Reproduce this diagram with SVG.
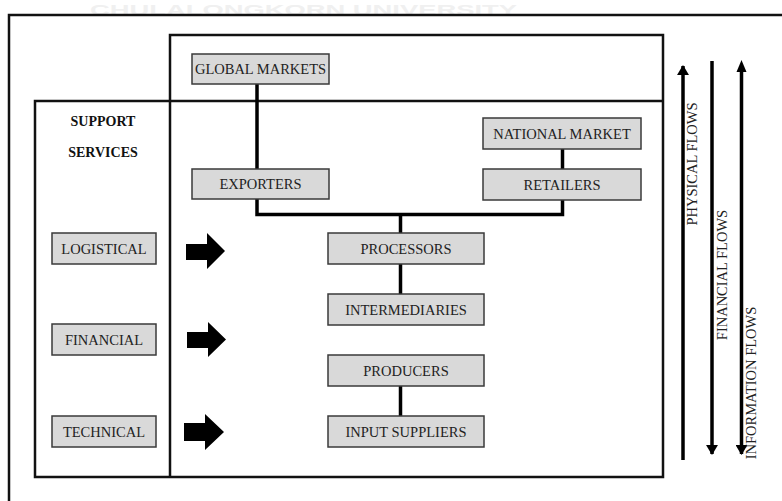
<svg xmlns="http://www.w3.org/2000/svg" width="782" height="501" viewBox="0 0 782 501">
<style>
.frame{fill:none;stroke:#111;stroke-width:2.5}
.box rect{fill:#d9d9d9;stroke:#3a3a3a;stroke-width:1.5}
.box text{font-family:"Liberation Serif","Times New Roman",serif;font-size:14.5px;fill:#222;text-anchor:middle}
.conn{fill:none;stroke:#000;stroke-width:3.5}
.flow{stroke:#000;stroke-width:3.5}
.lbl{font-family:"Liberation Serif","Times New Roman",serif;font-size:14.5px;fill:#222;text-anchor:middle}
.hdr{font-family:"Liberation Serif","Times New Roman",serif;font-size:14px;font-weight:bold;fill:#111;text-anchor:middle}
.blk{fill:#000}
</style>
<defs>
<marker id="ah" viewBox="0 0 10 12" refX="9" refY="6" markerWidth="3" markerHeight="3.4" orient="auto" markerUnits="strokeWidth">
<path d="M0,0 L10,6 L0,12 Z" fill="#000"/>
</marker>
</defs>
<rect width="782" height="501" fill="#fff"/>
<text x="90" y="14.5" textLength="427" lengthAdjust="spacingAndGlyphs" font-family="Liberation Sans, Arial, sans-serif" font-weight="bold" font-size="15" fill="#f0f0f0">CHULALONGKORN UNIVERSITY</text>

<g id="frames">
<path class="frame" d="M9,510 V15 H790"/>
<path class="frame" d="M170,101 V35 H663 V477 H35 V101 H663"/>
<line class="frame" x1="170" y1="101" x2="170" y2="477"/>
</g>

<g id="connectors">
<line class="conn" x1="257" y1="84" x2="257" y2="169"/>
<polyline class="conn" points="257,199 257,214.5 562.5,214.5 562.5,200"/>
<line class="conn" x1="562.5" y1="149" x2="562.5" y2="169"/>
<line class="conn" x1="400.5" y1="214.5" x2="400.5" y2="233"/>
<line class="conn" x1="400.5" y1="264" x2="400.5" y2="294"/>
<line class="conn" x1="400.5" y1="386" x2="400.5" y2="416"/>
</g>

<g id="support-header">
<text class="hdr" x="103" y="126">SUPPORT</text>
<text class="hdr" x="103" y="157">SERVICES</text>
</g>

<g id="global-markets" class="box"><rect x="192" y="54" width="137" height="30"/><text x="260.5" y="74">GLOBAL MARKETS</text></g>
<g id="exporters" class="box"><rect x="192" y="169" width="137" height="30"/><text x="260.5" y="189">EXPORTERS</text></g>
<g id="national-market" class="box"><rect x="483" y="118" width="158" height="31"/><text x="562" y="138.5">NATIONAL MARKET</text></g>
<g id="retailers" class="box"><rect x="483" y="169" width="158" height="31"/><text x="562" y="189.5">RETAILERS</text></g>
<g id="processors" class="box"><rect x="328" y="233" width="156" height="31"/><text x="406" y="253.5">PROCESSORS</text></g>
<g id="intermediaries" class="box"><rect x="328" y="294" width="156" height="31"/><text x="406" y="314.5">INTERMEDIARIES</text></g>
<g id="producers" class="box"><rect x="328" y="355" width="156" height="31"/><text x="406" y="375.5">PRODUCERS</text></g>
<g id="input-suppliers" class="box"><rect x="328" y="416" width="156" height="31"/><text x="406" y="436.5">INPUT SUPPLIERS</text></g>
<g id="logistical" class="box"><rect x="52" y="233" width="104" height="31"/><text x="104" y="253.5">LOGISTICAL</text></g>
<g id="financial" class="box"><rect x="52" y="324" width="104" height="31"/><text x="104" y="344.5">FINANCIAL</text></g>
<g id="technical" class="box"><rect x="52" y="416" width="104" height="31"/><text x="104" y="436.5">TECHNICAL</text></g>

<g id="service-arrows">
<polygon class="blk" points="186,244 207,244 207,233 225,251 207,269 207,260 186,260"/>
<polygon class="blk" points="187,332 208,332 208,322 226,339.5 208,357 208,348 187,348"/>
<polygon class="blk" points="184,423 205,423 205,414 224,432 205,450 205,441 184,441"/>
</g>

<g id="flows">
<line class="flow" x1="683" y1="460" x2="683" y2="66" marker-end="url(#ah)"/>
<line class="flow" x1="712" y1="61" x2="712" y2="454" marker-end="url(#ah)"/>
<line class="flow" x1="741.5" y1="66" x2="741.5" y2="454" marker-end="url(#ah)"/>
<polygon class="blk" points="741.5,60 736.5,72 746.5,72"/>
<text class="lbl" transform="translate(697,164) rotate(-90)">PHYSICAL FLOWS</text>
<text class="lbl" transform="translate(727,275) rotate(-90)">FINANCIAL FLOWS</text>
<text class="lbl" transform="translate(756,383) rotate(-90)">INFORMATION FLOWS</text>
</g>
</svg>
